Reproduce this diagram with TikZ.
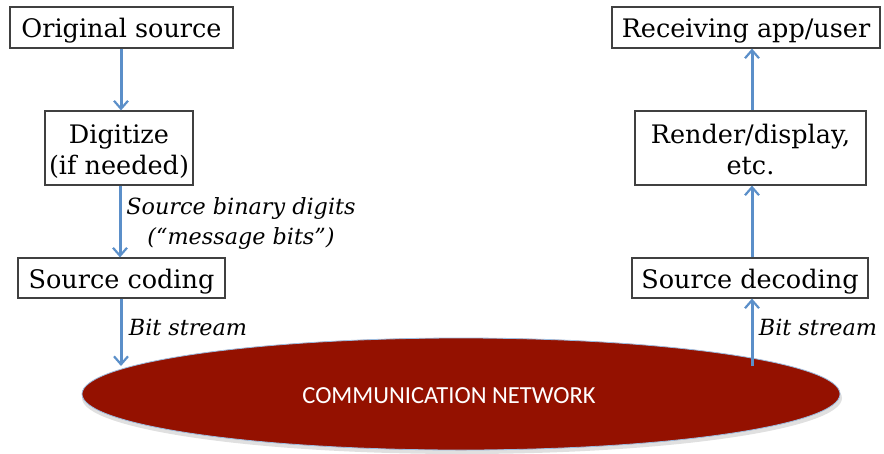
\documentclass[tikz,border=0pt]{standalone}
\usepackage{fontspec}
\setmainfont{DejaVu Serif}
\newfontfamily\netfont{Carlito}
\usetikzlibrary{arrows.meta,shapes.geometric}
\definecolor{flowblue}{RGB}{91,143,201}
\definecolor{netred}{RGB}{148,17,0}
% box captions sit a little below the optical centre of their box
\newcommand\oneline[1]{\raisebox{-3.5pt}[\height][\depth]{#1}}
\newcommand\twolines[2]{\raisebox{-4.5pt}[\height][\depth]{\begin{tabular}{@{}c@{}}#1\\#2\end{tabular}}}
\begin{document}
\begin{tikzpicture}[x=1pt,y=-1pt,
  stage/.style={draw=black!75, line width=1.1pt, fill=white, inner sep=0pt,
    font=\fontsize{25.5}{31}\selectfont},
  flow/.style={draw=flowblue, line width=3pt,
    -{Straight Barb[length=8pt,width=14pt,line width=2.2pt]}},
  note/.style={font=\fontsize{22.3}{30}\selectfont\itshape, align=center, inner sep=0pt}]
\useasboundingbox (0,0) rectangle (884,453);

% the network
\fill[black!30, opacity=.4] (462,398) ellipse [x radius=380pt, y radius=56pt];
\node[ellipse, fill=netred, draw=flowblue!60, line width=0.8pt, inner sep=0pt,
  minimum width=758pt, minimum height=112pt] (net) at (461,394) {};
\node[font=\netfont\fontsize{24.5}{28}\selectfont, text=white] (netlabel) at (449,396) {COMMUNICATION NETWORK};
\coordinate (inL) at (121,366);
\coordinate (outR) at (752,366);

% sender side
\node[stage, minimum width=223pt, minimum height=41pt] (orig) at (121.5,27.5) {\oneline{Original source}};
\node[stage, minimum width=148pt, minimum height=74pt] (digit) at (119,148) {\twolines{Digitize}{(if needed)}};
\node[stage, minimum width=207pt, minimum height=40pt] (scode) at (121.5,278) {\oneline{Source coding}};

% receiver side
\node[stage, minimum width=268pt, minimum height=41pt] (recv) at (746,27.5) {\oneline{Receiving app/user}};
\node[stage, minimum width=231pt, minimum height=74pt] (render) at (750.5,148) {\twolines{Render/display,}{etc.}};
\node[stage, minimum width=236pt, minimum height=40pt] (sdec) at (750,278) {\oneline{Source decoding}};

% connectors
\draw[flow] (orig.south -| 121,0) -- (digit.north -| 121,0);
\draw[flow] (digit.south -| 120,0) -- (scode.north -| 120,0);
\draw[flow] (scode.south -| 121,0) -- (inL);
\draw[flow] (render.north -| 752,0) -- (recv.south -| 752,0);
\draw[flow] (sdec.north -| 752,0) -- (render.south -| 752,0);
\draw[flow] (outR) -- (sdec.south -| 752,0);

% labels
\node[note] (bits) at (241,224) {Source binary digits\\(“message bits”)};
\node[note] (bsL) at (188,327) {Bit stream};
\node[note] (bsR) at (818,327) {Bit stream};
\end{tikzpicture}
\end{document}
